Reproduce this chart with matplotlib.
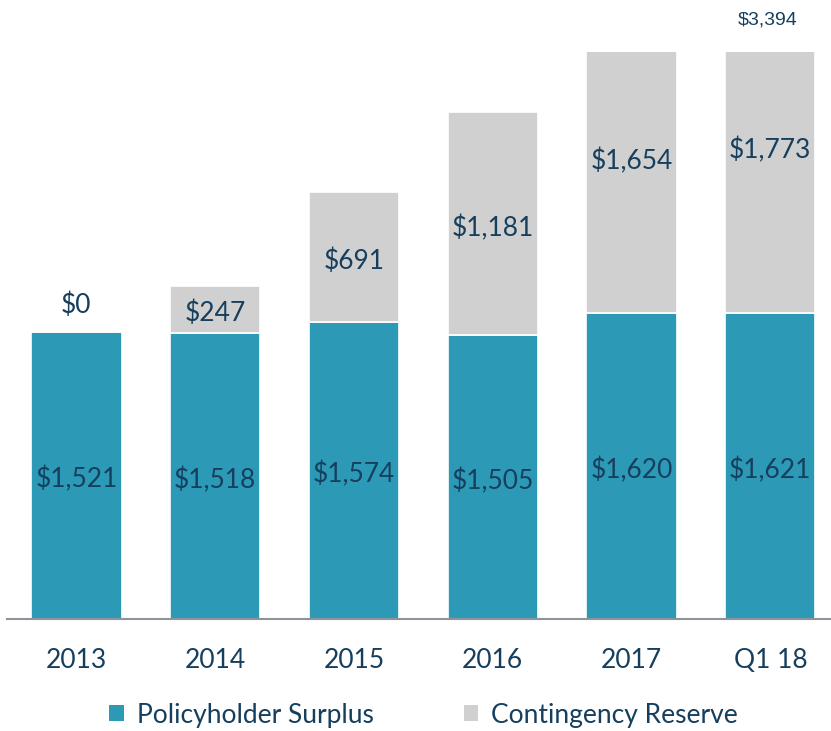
import matplotlib.pyplot as plt
import matplotlib.transforms as mtransforms
from matplotlib.patches import Patch

# values in $ millions
periods = ["2013", "2014", "2015", "2016", "2017", "Q1 18"]
policyholder_surplus = [1521, 1518, 1574, 1505, 1620, 1621]
contingency_reserve = [0, 247, 691, 1181, 1654, 1773]
latest_total = 3394

TEAL = "#2C9AB7"
GREY = "#D0D0D0"
NAVY = "#163F5E"

plt.rcParams["font.family"] = ["Lato", "DejaVu Sans"]

fig = plt.figure(figsize=(8.31, 7.31), dpi=100)
ax = fig.add_axes([7 / 831, 112 / 731, 824 / 831, 567 / 731])

x = list(range(len(periods)))
ax.bar(x, policyholder_surplus, width=0.65, color=TEAL,
       edgecolor="white", linewidth=1.2)
ax.bar(x, contingency_reserve, width=0.65, bottom=policyholder_surplus,
       color=GREY, edgecolor="white", linewidth=1.2)

# top of the plot cuts off the two tallest bars, like the original
ax.set_xlim(-0.5, 5.437)
ax.set_ylim(0, 3005)


def seg_label(xi, yi, value):
    """label centred on the real segment, even when the bar is clipped"""
    ax.annotate(f"${value:,}", (xi, yi), xytext=(0, -3), textcoords="offset points",
                ha="center", va="center", fontsize=19, color=NAVY,
                annotation_clip=False)


for i, (ps, cr) in enumerate(zip(policyholder_surplus, contingency_reserve)):
    seg_label(i, ps / 2, ps)
    if cr == 0:
        # empty segment -> put the label just above the bar
        ax.annotate(f"${cr:,}", (i, ps), xytext=(0, 10), textcoords="offset points",
                    ha="center", va="bottom", fontsize=19, color=NAVY)
    else:
        seg_label(i, ps + cr / 2, cr)

# total for the latest quarter sits above the plot area
trans = mtransforms.blended_transform_factory(ax.transData, ax.transAxes)
ax.text(x[-1] - 0.02, 1.057, f"${latest_total:,}", transform=trans,
        ha="center", va="center", fontsize=14, color=NAVY,
        family=["Liberation Sans", "DejaVu Sans"])

# axes styling
for side in ["top", "right", "left"]:
    ax.spines[side].set_visible(False)
ax.spines["bottom"].set_color("#8C939A")
ax.spines["bottom"].set_linewidth(1.5)
ax.set_yticks([])
ax.set_xticks(x)
ax.set_xticklabels(periods, fontsize=19, color=NAVY)
ax.tick_params(axis="x", length=0, pad=21)

handles = [Patch(facecolor=TEAL, label="Policyholder Surplus"),
           Patch(facecolor=GREY, label="Contingency Reserve")]
fig.legend(handles=handles, loc="center", bbox_to_anchor=(0.51, 16 / 731),
           ncol=2, frameon=False, fontsize=19, labelcolor=NAVY,
           handlelength=0.55, handleheight=0.55, handletextpad=0.5,
           columnspacing=3.4)

fig.savefig("out.png", dpi=100)
